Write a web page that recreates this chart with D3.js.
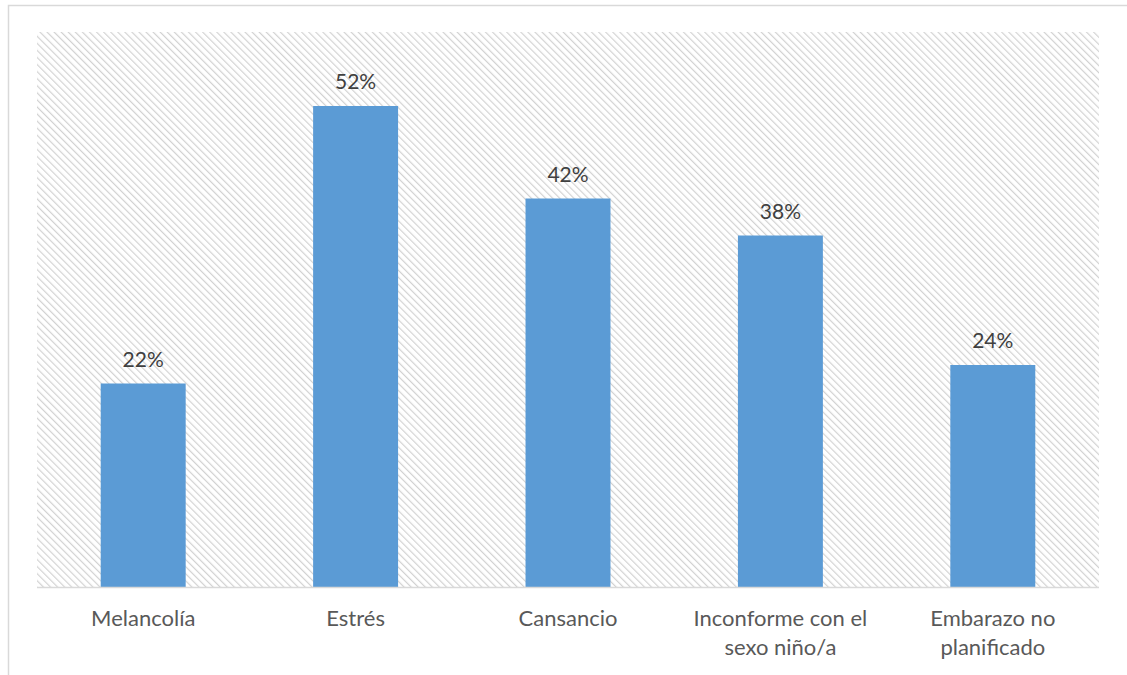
<!DOCTYPE html>
<html>
<head>
<meta charset="utf-8">
<script src="https://cdn.jsdelivr.net/npm/d3@7"></script>
<style>
  html, body { margin: 0; padding: 0; background: #ffffff; }
  svg { display: block; }
</style>
</head>
<body>
<svg id="chart" width="1127" height="675"></svg>
<script>
// Síntomas reportados (porcentaje de respuestas)
const categories = [
  "Melancolía",
  "Estrés",
  "Cansancio",
  "Inconforme con el sexo niño/a",
  "Embarazo no planificado"
];
const values = [0.22, 0.52, 0.42, 0.38, 0.24];
const yMax = 0.6;

const W = 1127, H = 675;
const plot = { left: 37, top: 32, right: 1099, bottom: 587 };
const FONT = "Lato, 'Open Sans', 'Liberation Sans', sans-serif";

const svg = d3.select("#chart");

// Outer chart frame
svg.append("rect")
  .attr("x", 8.5).attr("y", 5.5)
  .attr("width", W + 20).attr("height", H + 20)
  .attr("fill", "#ffffff")
  .attr("stroke", "#d9d9d9")
  .attr("stroke-width", 1.5);

// Diagonal hatch fill for the plot area
const P = 5;
const defs = svg.append("defs");
const pat = defs.append("pattern")
  .attr("id", "hatch")
  .attr("patternUnits", "userSpaceOnUse")
  .attr("width", P).attr("height", P)
  .attr("patternTransform", "rotate(-45)");
pat.append("rect").attr("width", P).attr("height", P).attr("fill", "#ffffff");
pat.append("line")
  .attr("x1", 0).attr("y1", 0).attr("x2", 0).attr("y2", P)
  .attr("stroke", "#d2d2d2").attr("stroke-width", 2.4);

svg.append("rect")
  .attr("x", plot.left).attr("y", plot.top)
  .attr("width", plot.right - plot.left).attr("height", plot.bottom - plot.top)
  .attr("fill", "url(#hatch)");

const x = d3.scaleBand()
  .domain(categories)
  .range([plot.left, plot.right])
  .paddingInner(0.6)
  .paddingOuter(0.3);

const y = d3.scaleLinear()
  .domain([0, yMax])
  .range([plot.bottom, plot.top]);

const data = categories.map((c, i) => ({ cat: c, value: values[i] }));

// Bars
svg.append("g").selectAll("rect")
  .data(data)
  .join("rect")
  .attr("x", d => x(d.cat))
  .attr("y", d => y(d.value))
  .attr("width", x.bandwidth())
  .attr("height", d => y(0) - y(d.value))
  .attr("fill", "#5b9bd5");

// Value labels
svg.append("g").selectAll("text")
  .data(data)
  .join("text")
  .attr("x", d => x(d.cat) + x.bandwidth() / 2)
  .attr("y", d => y(d.value) - 17)
  .attr("text-anchor", "middle")
  .attr("font-family", FONT)
  .attr("font-size", 21)
  .attr("fill", "#404040")
  .text(d => d3.format(".0%")(d.value));

// Category axis
const xAxis = svg.append("g")
  .attr("transform", `translate(0,${plot.bottom})`)
  .call(d3.axisBottom(x).tickSize(0).tickPadding(0));
xAxis.select(".domain")
  .attr("d", `M${plot.left},0.5H${plot.right}`)
  .attr("stroke", "#d9d9d9")
  .attr("stroke-width", 1.5);

// Wrap long category names over several lines
function wrap(sel, maxWidth) {
  sel.each(function () {
    const t = d3.select(this);
    const words = t.text().split(/\s+/);
    t.text(null);
    let line = [];
    let tspan = t.append("tspan").attr("x", 0).attr("dy", 0);
    words.forEach(w => {
      line.push(w);
      tspan.text(line.join(" "));
      if (tspan.node().getComputedTextLength() > maxWidth && line.length > 1) {
        line.pop();
        tspan.text(line.join(" "));
        line = [w];
        tspan = t.append("tspan").attr("x", 0).attr("dy", 29).text(w);
      }
    });
  });
}

xAxis.selectAll(".tick text")
  .attr("font-family", FONT)
  .attr("font-size", 22)
  .attr("fill", "#595959")
  .attr("y", 39)
  .attr("dy", 0)
  .call(wrap, 200);
</script>
</body>
</html>
